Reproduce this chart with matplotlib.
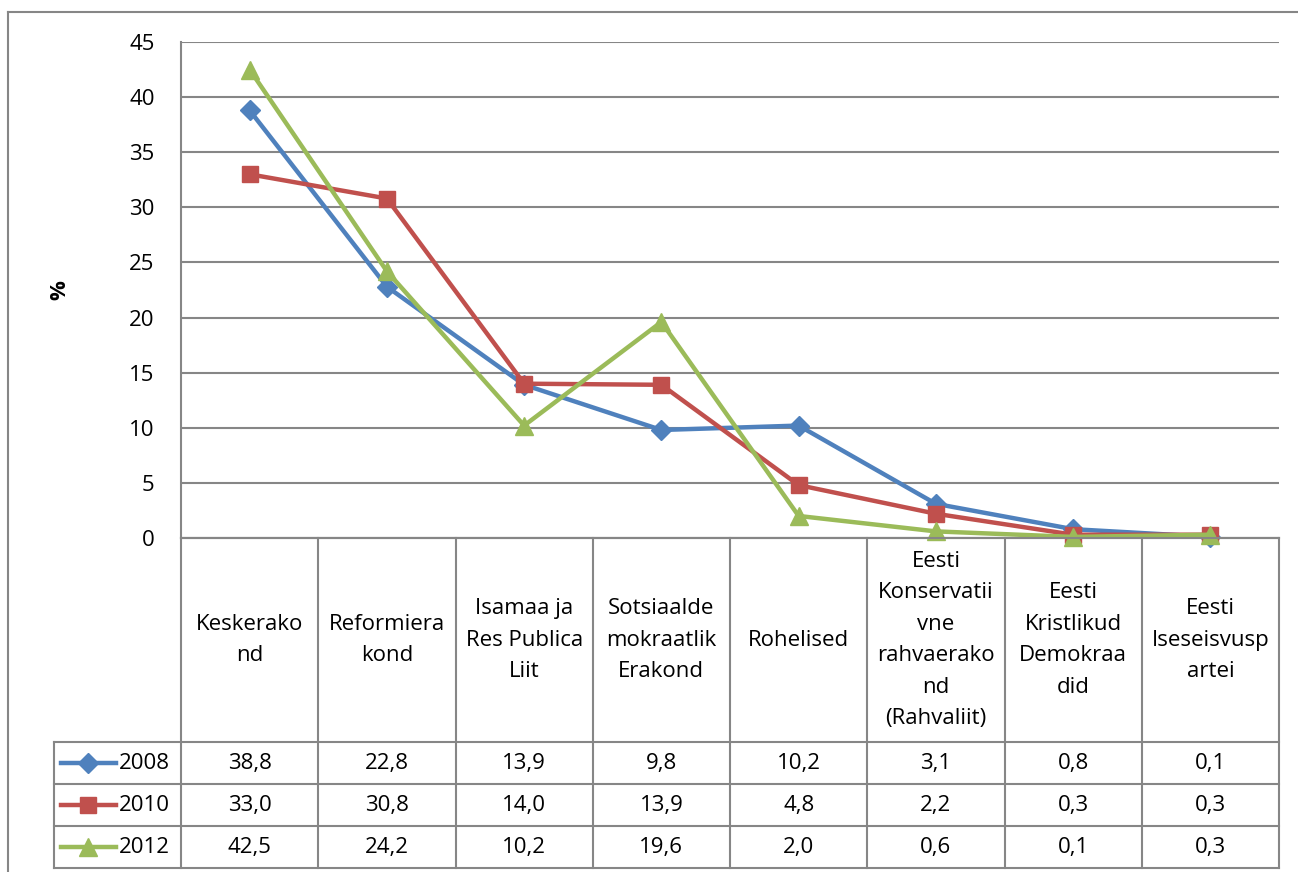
import numpy as np
import matplotlib.pyplot as plt
from matplotlib.lines import Line2D

plt.rcParams['font.family'] = ['Open Sans', 'DejaVu Sans']

# Datos
partidos = ['Keskerako\nnd', 'Reformiera\nkond', 'Isamaa ja\nRes Publica\nLiit',
            'Sotsiaalde\nmokraatlik\nErakond', 'Rohelised',
            'Eesti\nKonservatii\nvne\nrahvaerako\nnd\n(Rahvaliit)',
            'Eesti\nKristlikud\nDemokraa\ndid', 'Eesti\nIseseisvusp\nartei']
anios = ['2008', '2010', '2012']
v2008 = [38.8, 22.8, 13.9, 9.8, 10.2, 3.1, 0.8, 0.1]
v2010 = [33.0, 30.8, 14.0, 13.9, 4.8, 2.2, 0.3, 0.3]
v2012 = [42.5, 24.2, 10.2, 19.6, 2.0, 0.6, 0.1, 0.3]
yticks = [0, 5, 10, 15, 20, 25, 30, 35, 40, 45]

series = [v2008, v2010, v2012]
colores = ['#4F81BD', '#C0504D', '#9BBB59']
marcadores = ['D', 's', '^']
tam_marc = [10, 12, 13]
gris = '#868686'
fs = 16

W, H = 1298, 872
fig = plt.figure(figsize=(W / 100, H / 100), dpi=100)

def caja(x0, y0, x1, y1):
    # convierte pixeles (arriba-izquierda) a coordenadas de figura
    return [x0 / W, 1 - y1 / H, (x1 - x0) / W, (y1 - y0) / H]

# Marco exterior
fig.add_artist(Line2D([8 / W, 8 / W], [0, 1 - 12 / H], color=gris, lw=1.5))
fig.add_artist(Line2D([8 / W, 1], [1 - 12 / H, 1 - 12 / H], color=gris, lw=1.5))

x = np.arange(len(partidos))

# Grafico principal
ax = fig.add_axes(caja(181, 42, 1279, 538))
for vals, c, m, ms in zip(series, colores, marcadores, tam_marc):
    ax.plot(x, vals, color=c, lw=3.2, marker=m, markersize=ms, zorder=3, clip_on=False)
ax.set_xlim(-0.5, len(partidos) - 0.5)
ax.set_ylim(0, 45)
ax.set_yticks(yticks)
ax.set_yticklabels([str(t) for t in yticks], fontsize=fs)
ax.set_xticks([])
ax.tick_params(axis='y', length=0, pad=19)
ax.grid(axis='y', color=gris, lw=1.5)
ax.set_axisbelow(True)
for s in ['top', 'right']:
    ax.spines[s].set_visible(False)
for s in ['left', 'bottom']:
    ax.spines[s].set_color(gris)
    ax.spines[s].set_linewidth(1.5)
fig.text(60 / W, 1 - 290 / H, '%', rotation=90, fontsize=fs, fontweight='bold',
         ha='center', va='center')

# Tabla de datos
ancho_col = (1279 - 181) / len(partidos)
izq = -0.5 - (181 - 54) / ancho_col
tab = fig.add_axes(caja(54, 538, 1279, 868))
tab.set_xlim(izq, len(partidos) - 0.5)
tab.set_ylim(330, 0)
tab.axis('off')

alto_cab = 204
alto_fila = 42
# lineas verticales
for i in range(len(partidos) + 1):
    tab.plot([i - 0.5, i - 0.5], [0, 330], color=gris, lw=1.5, clip_on=False)
tab.plot([izq, izq], [alto_cab, 330], color=gris, lw=1.5, clip_on=False)
# lineas horizontales
tab.plot([-0.5, len(partidos) - 0.5], [0, 0], color=gris, lw=1.5, clip_on=False)
for j in range(len(anios) + 1):
    yy = alto_cab + j * alto_fila
    tab.plot([izq, len(partidos) - 0.5], [yy, yy], color=gris, lw=1.5, clip_on=False)

for i, nombre in enumerate(partidos):
    tab.text(i, alto_cab / 2, nombre, ha='center', va='center', fontsize=fs,
             linespacing=1.66)

for j, (anio, vals, c, m, ms) in enumerate(zip(anios, series, colores, marcadores, tam_marc)):
    yc = alto_cab + (j + 0.5) * alto_fila
    tab.plot([izq + 0.05, izq + 0.45], [yc, yc], color=c, lw=3.2, clip_on=False)
    tab.plot([izq + 0.25], [yc], color=c, marker=m, markersize=ms, clip_on=False)
    tab.text(izq + 0.47, yc, anio, ha='left', va='center', fontsize=fs)
    for i, v in enumerate(vals):
        tab.text(i, yc, f'{v:.1f}'.replace('.', ','), ha='center', va='center',
                 fontsize=fs)

fig.savefig('out.png', dpi=100)
